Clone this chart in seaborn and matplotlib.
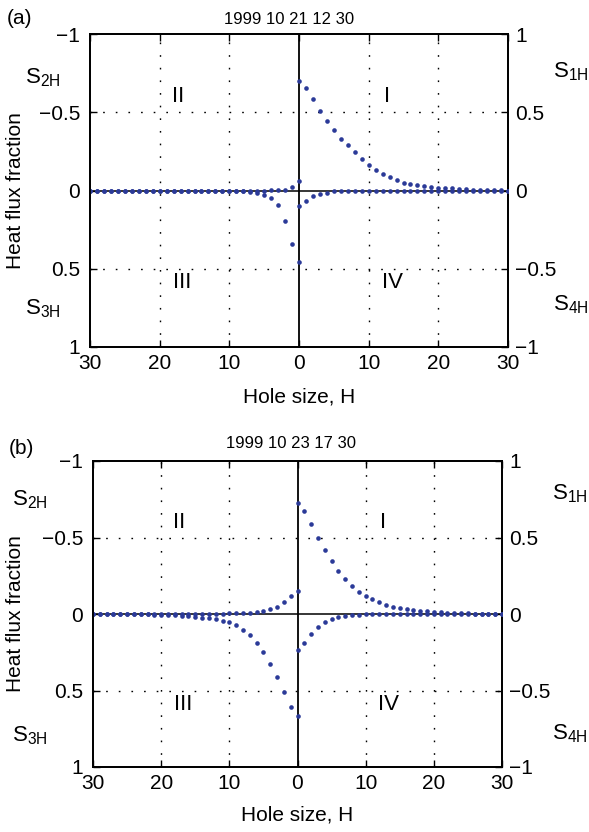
import numpy as np
import pandas as pd
import matplotlib
matplotlib.use("Agg")
import matplotlib.pyplot as plt
import seaborn as sns

# ---------------- data ----------------
H = list(range(0, 31))

# panel (a): 1999 10 21 12 30
s1h_a = [0.701, 0.656, 0.584, 0.511, 0.445, 0.386, 0.332, 0.288, 0.243, 0.200, 0.164,
         0.134, 0.108, 0.087, 0.066, 0.051, 0.042, 0.034, 0.028, 0.023, 0.019, 0.017,
         0.015, 0.011, 0.008, 0.006, 0.004, 0.004, 0.002, 0.002, 0.000]
s2h_a = [-0.062, -0.021, -0.006, -0.002, -0.001] + [0.0] * 26
s3h_a = [0.458, 0.343, 0.198, 0.092, 0.047, 0.026, 0.015, 0.011, 0.004, 0.002, 0.001] + [0.0] * 20
s4h_a = [-0.096, -0.066, -0.038, -0.023, -0.013, -0.006, -0.004, -0.002, -0.001] + [0.0] * 22

# panel (b): 1999 10 23 17 30
s1h_b = [0.725, 0.673, 0.586, 0.497, 0.416, 0.346, 0.283, 0.227, 0.181, 0.144, 0.118,
         0.098, 0.078, 0.061, 0.048, 0.039, 0.030, 0.026, 0.022, 0.017, 0.013, 0.011,
         0.009, 0.007, 0.005, 0.005, 0.003, 0.003, 0.002, 0.001, 0.000]
s2h_b = [-0.150, -0.115, -0.076, -0.048, -0.031, -0.020, -0.013, -0.009, -0.007, -0.005,
         -0.004, -0.003, -0.002, -0.002, -0.001, -0.001] + [0.0] * 15
s3h_b = [0.667, 0.608, 0.510, 0.410, 0.327, 0.251, 0.187, 0.139, 0.103, 0.074, 0.055,
         0.045, 0.035, 0.028, 0.023, 0.018, 0.014, 0.011, 0.008, 0.006, 0.005, 0.004,
         0.003, 0.002, 0.001] + [0.0] * 6
s4h_b = [-0.235, -0.187, -0.129, -0.083, -0.052, -0.033, -0.020, -0.011, -0.007, -0.005,
         -0.003, -0.002, -0.001] + [0.0] * 18

titles = ["1999 10 21 12 30", "1999 10 23 17 30"]
panel_tags = ["(a)", "(b)"]
xticks = [-30, -20, -10, 0, 10, 20, 30]
xticklabels = ["30", "20", "10", "0", "10", "20", "30"]
yticks = [-1, -0.5, 0, 0.5, 1]
yticklabels = ["\u22121", "\u22120.5", "0", "0.5", "1"]

# ---------------- style ----------------
sns.set_theme(style="white")
plt.rcParams["font.family"] = ["Liberation Sans", "DejaVu Sans"]
plt.rcParams["mathtext.fontset"] = "custom"
plt.rcParams["mathtext.rm"] = "Liberation Sans"
plt.rcParams["mathtext.it"] = "Liberation Sans"
plt.rcParams["axes.unicode_minus"] = True

W, Hpx = 589, 832
fig = plt.figure(figsize=(W / 100, Hpx / 100), dpi=100)
fig.patch.set_facecolor("white")

DOT = "#2b3a98"
GRID_LS = (0, (1.2, 7.9))
FS = 15
FS_S = 16


def px_axes(left, right, top, bottom):
    return [left / W, 1 - bottom / Hpx, (right - left) / W, (bottom - top) / Hpx]


boxes = [(90, 508, 34, 347), (93, 502, 461, 767)]
layout = [
    dict(tag=(20, 18), title_xy=(289, 19), xlab_y=397, ylab_x=16,
         s2=(43, 78), s3=(43, 309), s1=(571, 72), s4=(571, 305)),
    dict(tag=(21, 449), title_xy=(291, 444), xlab_y=815, ylab_x=16,
         s2=(30, 500), s3=(30, 736), s1=(570, 494), s4=(570, 734)),
]
data = [(s1h_a, s2h_a, s3h_a, s4h_a), (s1h_b, s2h_b, s3h_b, s4h_b)]

for i in range(2):
    l, r, t, b = boxes[i]
    lay = layout[i]
    s1, s2, s3, s4 = data[i]
    ax = fig.add_axes(px_axes(l, r, t, b))
    ax2 = ax.twinx()

    left_df = pd.DataFrame({"x": [-h for h in H] * 2, "y": s2 + s3})
    right_df = pd.DataFrame({"x": H * 2, "y": s1 + s4})

    # grid and zero lines
    for gx in [-20, -10, 10, 20]:
        ax.axvline(gx, color="black", lw=1.0, ls=GRID_LS, zorder=1)
    for gy in [-0.5, 0.5]:
        ax.axhline(gy, color="black", lw=1.0, ls=GRID_LS, zorder=1)
    ax.axhline(0, color="black", lw=1.1, zorder=2)
    ax.axvline(0, color="black", lw=1.3, zorder=2)

    sns.scatterplot(data=left_df, x="x", y="y", ax=ax, color=DOT, s=11,
                    linewidth=0, zorder=3, legend=False)
    sns.scatterplot(data=right_df, x="x", y="y", ax=ax2, color=DOT, s=11,
                    linewidth=0, zorder=3, legend=False)
    ax.set_xlim(-30, 30)
    ax.set_ylim(1, -1)
    ax2.set_ylim(-1, 1)

    ax.set_xticks(xticks)
    ax.set_xticklabels(xticklabels)
    ax.set_yticks(yticks)
    ax.set_yticklabels(yticklabels)
    ax2.set_yticks(yticks)
    ax2.set_yticklabels(yticklabels)

    ax.tick_params(axis="x", direction="in", length=5, width=1, top=True, bottom=True,
                   labelsize=FS, pad=5, colors="black")
    ax.tick_params(axis="y", direction="in", length=5, width=1, left=True, right=False,
                   labelsize=FS, pad=7, colors="black")
    ax2.tick_params(axis="y", direction="in", length=5, width=1, right=True,
                    labelsize=FS, pad=5, colors="black")
    ax2.set_ylabel("")

    for a in (ax, ax2):
        for sp in a.spines.values():
            sp.set_color("black")
            sp.set_linewidth(1.3)
            sp.set_visible(True)

    ax.set_xlabel("Hole size, H", fontsize=FS, color="black")
    ax.xaxis.label.set_va("center")
    ax.xaxis.set_label_coords(0.5, (b - lay["xlab_y"]) / (b - t))
    ax.set_ylabel("Heat flux fraction", fontsize=FS, color="black")
    ax.yaxis.label.set_va("center")
    ax.yaxis.set_label_coords((lay["ylab_x"] - l) / (r - l), 0.5)

    tx, ty = lay["title_xy"]
    ax.text((tx - l) / (r - l), (b - ty) / (b - t), titles[i], transform=ax.transAxes,
            ha="center", va="center", fontsize=12, color="black")
    fig.text(lay["tag"][0] / W, 1 - lay["tag"][1] / Hpx, panel_tags[i],
             ha="center", va="center", fontsize=FS, color="black")

    for key, lab in [("s2", "2H"), ("s3", "3H"), ("s1", "1H"), ("s4", "4H")]:
        px, py = lay[key]
        fig.text(px / W, 1 - py / Hpx, r"$\mathregular{S_{%s}}$" % lab,
                 ha="center", va="center", fontsize=FS_S, color="black")

    # quadrant numerals
    ax.text(-17.3, -0.60, "II", ha="center", va="center", fontsize=FS_S, color="black")
    ax.text(12.6, -0.60, "I", ha="center", va="center", fontsize=FS_S, color="black")
    ax.text(-16.8, 0.59, "III", ha="center", va="center", fontsize=FS_S, color="black")
    ax.text(13.4, 0.59, "IV", ha="center", va="center", fontsize=FS_S, color="black")

fig.savefig("out.png", dpi=100, facecolor="white")
